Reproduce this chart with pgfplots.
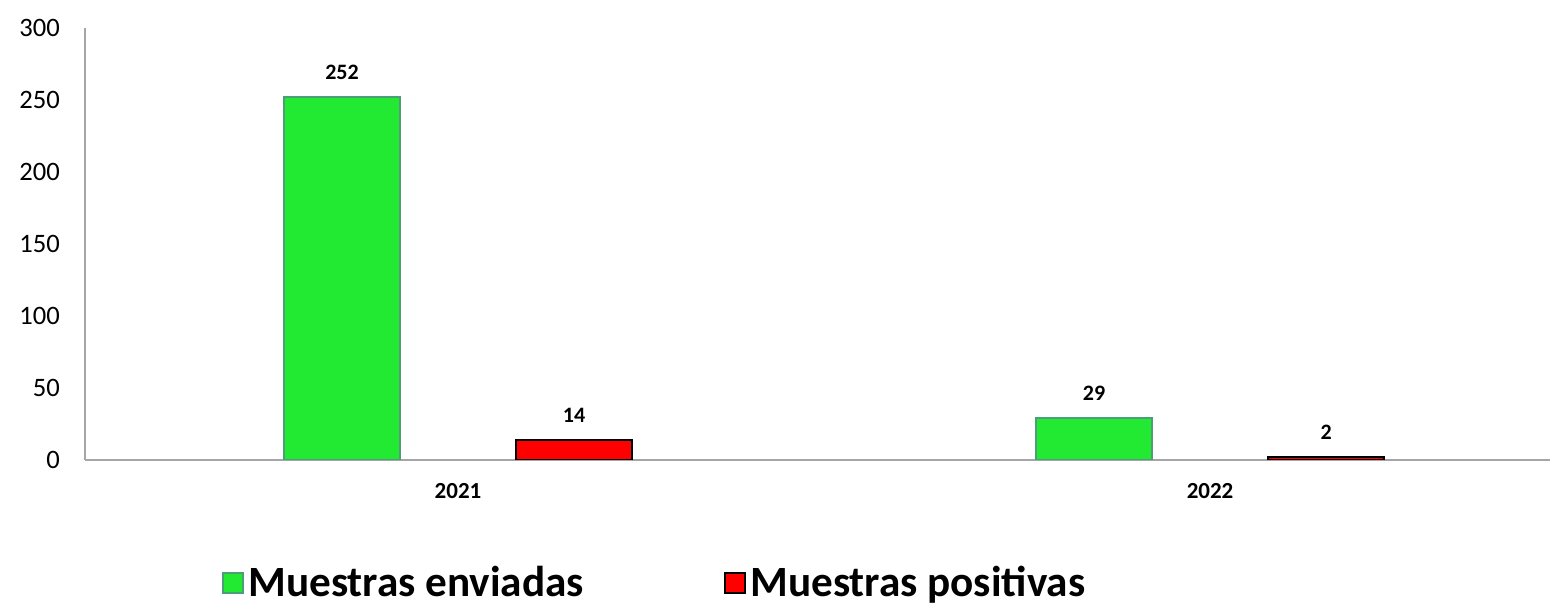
\documentclass[border=0pt]{standalone}
\usepackage{fontspec}
\setmainfont{Carlito}
\usepackage{pgfplots}
\pgfplotsset{compat=1.18}

\definecolor{vgreen}{RGB}{34,233,50}
\definecolor{vgreenedge}{RGB}{76,158,118}
\definecolor{axgray}{RGB}{166,166,166}

\begin{document}
\begin{tikzpicture}
\useasboundingbox (-42.5pt,-74.5pt) rectangle (740pt,230pt);
\begin{axis}[
    scale only axis,
    width=732.5pt, height=216pt,
    ybar, bar width=58pt,
    xmin=-0.496, xmax=1.452,
    ymin=0, ymax=300,
    ytick={0,50,...,300},
    xtick={0,1}, xticklabels={2021,2022},
    axis x line*=bottom, axis y line*=left,
    axis line style={draw=axgray, line width=1pt, -},
    major tick length=0pt,
    /pgf/number format/assume math mode=true,
    yticklabel style={font=\fontsize{13.3}{15}\selectfont, xshift=-9pt},
    xticklabel style={font=\fontsize{11.5}{13}\selectfont\bfseries, yshift=-8pt},
    nodes near coords,
    every node near coord/.append style={font=\fontsize{11}{13}\selectfont\bfseries, yshift=5pt},
    legend columns=2,
    legend style={draw=none, inner sep=0pt, at={(rel axis cs:0,0)}, anchor=west,
        xshift=68.5pt, yshift=-61.5pt, font=\fontsize{21.6}{25}\selectfont\bfseries,
        /tikz/every even column/.append style={column sep=0pt}},
    legend image code/.code={\draw[#1, line width=1pt] (0pt,-5pt) rectangle (10pt,5pt);},
]
\addplot[fill=vgreen, draw=vgreenedge, line width=1pt, bar shift=-58pt]
    coordinates {(0,252) (1,29)};
\addplot[fill=red, draw=black, line width=1pt, bar shift=58pt]
    coordinates {(0,14) (1,2)};
\legend{\makebox[236pt][l]{Muestras enviadas}, Muestras positivas}
\end{axis}
\end{tikzpicture}
\end{document}
